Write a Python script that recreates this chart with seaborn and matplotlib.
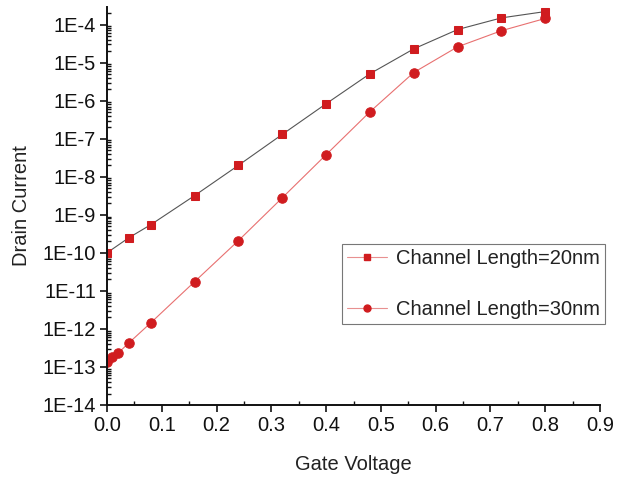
import numpy as np
import pandas as pd
import matplotlib
matplotlib.use("Agg")
import matplotlib.pyplot as plt
from matplotlib.lines import Line2D
from matplotlib.ticker import LogLocator, FuncFormatter, MultipleLocator, NullFormatter
import seaborn as sns

# Gate voltage sweep (V) and drain current (A) for two channel lengths
vg_20nm = [0.0, 0.04, 0.08, 0.16, 0.24, 0.32, 0.40, 0.48, 0.56, 0.64, 0.72, 0.80]
id_20nm = [1.0e-10, 2.5e-10, 5.5e-10, 3.2e-9, 2.0e-8, 1.3e-7, 8.3e-7, 5.1e-6,
           2.3e-5, 7.4e-5, 1.5e-4, 2.2e-4]

vg_30nm = [0.0, 0.01, 0.02, 0.04, 0.08, 0.16, 0.24, 0.32, 0.40, 0.48, 0.56, 0.64, 0.72, 0.80]
id_30nm = [1.35e-13, 1.8e-13, 2.3e-13, 4.3e-13, 1.45e-12, 1.75e-11, 2.1e-10, 2.8e-9,
           3.8e-8, 5.1e-7, 5.5e-6, 2.6e-5, 6.9e-5, 1.45e-4]

labels = ["Channel Length=20nm", "Channel Length=30nm"]
x_ticks = [0.0, 0.1, 0.2, 0.3, 0.4, 0.5, 0.6, 0.7, 0.8, 0.9]

sns.set_style("ticks")
plt.rcParams["font.family"] = ["Liberation Sans", "DejaVu Sans"]
plt.rcParams["font.size"] = 14.5

marker_red = "#d01c1f"
df20 = pd.DataFrame({"vg": vg_20nm, "id": id_20nm})
df30 = pd.DataFrame({"vg": vg_30nm, "id": id_30nm})

fig = plt.figure(figsize=(6.18, 4.82), dpi=100)
ax = fig.add_axes([107 / 618, 1 - 405 / 482, 493 / 618, 398 / 482])

sns.lineplot(data=df20, x="vg", y="id", ax=ax, color="#555555", linewidth=0.8,
             marker="s", markersize=6.2, markerfacecolor=marker_red,
             markeredgecolor=marker_red, sort=False)
sns.lineplot(data=df30, x="vg", y="id", ax=ax, color="#e87070", linewidth=0.8,
             marker="o", markersize=6.8, markerfacecolor=marker_red,
             markeredgecolor=marker_red, sort=False)

ax.set_yscale("log")
ax.set_xlim(0, 0.9)
ax.set_ylim(1e-14, 2.9e-4)

ax.set_xticks(x_ticks)
ax.xaxis.set_major_formatter(FuncFormatter(lambda v, p: f"{v:.1f}"))
ax.xaxis.set_minor_locator(MultipleLocator(0.05))

ax.yaxis.set_major_locator(LogLocator(base=10, numticks=20))
ax.yaxis.set_major_formatter(FuncFormatter(lambda v, p: f"1E{int(round(np.log10(v)))}"))
ax.yaxis.set_minor_locator(LogLocator(base=10, subs=np.arange(2, 10), numticks=20))
ax.yaxis.set_minor_formatter(NullFormatter())

ax.tick_params(axis="both", which="major", direction="out", length=5, width=1.2,
               labelsize=14.5, colors="#111111", pad=3)
ax.tick_params(axis="both", which="minor", direction="in", length=3, width=1.0,
               colors="#111111")
for side in ("left", "bottom"):
    ax.spines[side].set_linewidth(1.4)
    ax.spines[side].set_color("#111111")
sns.despine(ax=ax)

ax.set_xlabel("Gate Voltage", fontsize=14.5, color="#222222", labelpad=14)
ax.set_ylabel("Drain Current", fontsize=14.5, color="#222222", labelpad=8)

handles = [
    Line2D([], [], color="#e89090", linewidth=0.8, marker="s", markersize=5,
           markerfacecolor=marker_red, markeredgecolor=marker_red),
    Line2D([], [], color="#e89090", linewidth=0.8, marker="o", markersize=5,
           markerfacecolor=marker_red, markeredgecolor=marker_red),
]
leg = ax.legend(handles, labels, loc="upper left",
                bbox_to_anchor=(342 / 618, 1 - 244 / 482), bbox_transform=fig.transFigure,
                frameon=True, fancybox=False, edgecolor="#555555", fontsize=14.5,
                handlelength=2.0, handletextpad=0.45, labelspacing=1.6,
                borderpad=0.25, borderaxespad=0)
leg.get_frame().set_linewidth(0.8)
for t in leg.get_texts():
    t.set_color("#222222")

fig.savefig("out.png", dpi=100)
